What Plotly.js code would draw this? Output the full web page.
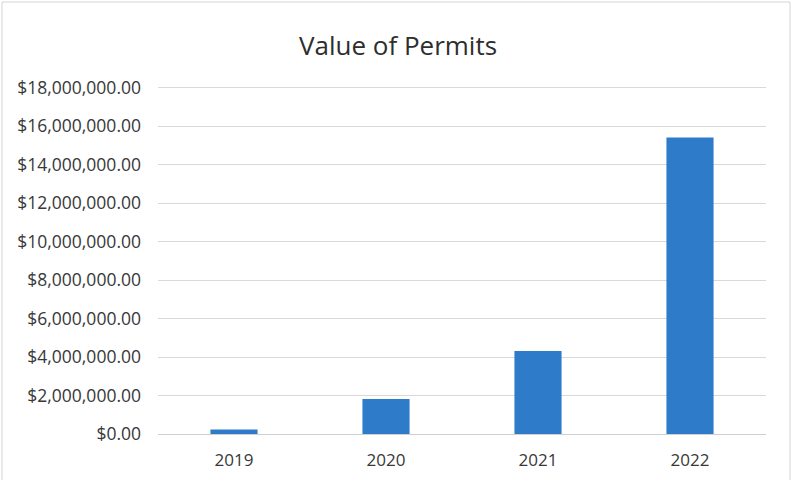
<!DOCTYPE html>
<html><head><meta charset="utf-8">
<script src="https://cdn.plot.ly/plotly-3.0.1.min.js"></script>
<style>html,body{margin:0;padding:0;background:#fff}#c{width:796px;height:480px}</style>
</head><body><div id="c"></div>
<script>
const years = ['2019', '2020', '2021', '2022'];
const permitValues = [230000, 1820000, 4320000, 15420000];
const tickVals = [0, 2000000, 4000000, 6000000, 8000000, 10000000, 12000000, 14000000, 16000000, 18000000];
const tickText = ['$0.00', '$2,000,000.00', '$4,000,000.00', '$6,000,000.00', '$8,000,000.00', '$10,000,000.00', '$12,000,000.00', '$14,000,000.00', '$16,000,000.00', '$18,000,000.00'];

Plotly.newPlot('c', [{
  type: 'bar', x: years, y: permitValues,
  marker: {color: '#2e7bc9'}, hoverinfo: 'none'
}], {
  width: 796, height: 480,
  margin: {l: 158, r: 30, t: 85, b: 46},
  paper_bgcolor: '#fff', plot_bgcolor: '#fff',
  bargap: 0.69,
  font: {family: '"Open Sans", sans-serif', color: '#383838', size: 16},
  title: {text: 'Value of Permits', x: 0.5, xanchor: 'center', y: 0.905, yanchor: 'middle',
          font: {size: 26, color: '#2e2e2e', family: '"Open Sans", sans-serif'}},
  xaxis: {type: 'category', showgrid: false, showline: false, zeroline: false, ticks: '',
          tickfont: {size: 17}, ticklabelstandoff: 14},
  yaxis: {range: [0, 18150000], tickvals: tickVals, ticktext: tickText, showgrid: true,
          gridcolor: '#d9d9d9', gridwidth: 1, zeroline: true, zerolinecolor: '#d0d0d0',
          showline: false, ticks: '', tickfont: {size: 17.5}, ticklabelstandoff: 16},
  shapes: [{type: 'rect', xref: 'paper', yref: 'paper', x0: -156/608, x1: 1 + 24/608, y0: -0.2, y1: 1 + 83/349,
            line: {color: '#d4d4d4', width: 1}, fillcolor: 'rgba(0,0,0,0)', layer: 'below'}]
}, {displayModeBar: false, staticPlot: true});
</script></body></html>
